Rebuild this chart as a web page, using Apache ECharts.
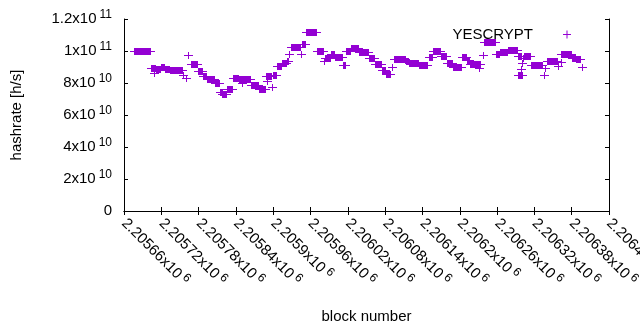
<!DOCTYPE html>
<html>
<head>
<meta charset="utf-8">
<script src="https://cdn.jsdelivr.net/npm/echarts@6/dist/echarts.min.js"></script>
<style>
html, body { margin: 0; padding: 0; background: #fff; }
#chart { width: 640px; height: 330px; }
</style>
</head>
<body>
<div id="chart"></div>
<script>
// runs of consecutive blocks sharing one hashrate value (first block, last block, GH/s)
const runFirst = [
  2205676, 2205703, 2205708, 2205711, 2205719, 2205726, 2205734, 2205755, 2205759, 2205763,
  2205768, 2205779, 2205787, 2205793, 2205806, 2205814, 2205818, 2205826, 2205835, 2205845,
  2205850, 2205851, 2205864, 2205877, 2205890, 2205888, 2205898, 2205900, 2205906, 2205914,
  2205922, 2205925, 2205929, 2205945, 2205946, 2205953, 2205970, 2205982, 2205983, 2205993,
  2205999, 2206012, 2206017, 2206025, 2206038, 2206054, 2206064, 2206075, 2206081, 2206091,
  2206094, 2206113, 2206118, 2206134, 2206150, 2206157, 2206170, 2206179, 2206189, 2206204,
  2206212, 2206216, 2206231, 2206237, 2206239, 2206258, 2206265, 2206278, 2206294, 2206293,
  2206299, 2206300, 2206302, 2206303, 2206315, 2206337, 2206335, 2206340, 2206358, 2206362,
  2206363, 2206380, 2206387, 2206397
]
const runLast = [
  2205702, 2205710, 2205708, 2205718, 2205724, 2205732, 2205753, 2205755, 2205759, 2205763,
  2205777, 2205785, 2205792, 2205805, 2205813, 2205817, 2205824, 2205834, 2205843, 2205850,
  2205850, 2205863, 2205875, 2205887, 2205890, 2205896, 2205898, 2205904, 2205912, 2205920,
  2205924, 2205925, 2205943, 2205945, 2205951, 2205969, 2205980, 2205982, 2205991, 2205998,
  2206011, 2206015, 2206023, 2206036, 2206052, 2206062, 2206073, 2206080, 2206088, 2206091,
  2206112, 2206117, 2206133, 2206147, 2206155, 2206168, 2206178, 2206187, 2206202, 2206210,
  2206215, 2206232, 2206231, 2206237, 2206257, 2206263, 2206276, 2206292, 2206298, 2206300,
  2206299, 2206300, 2206302, 2206313, 2206332, 2206337, 2206335, 2206356, 2206358, 2206362,
  2206379, 2206385, 2206393, 2206397
]
const runHashrate = [
  100.0, 89.6, 86.5, 88.8, 89.8, 88.8, 87.9, 84.8, 83.1, 97.3,
  91.7, 87.7, 84.4, 82.3, 80.0, 74.6, 73.3, 76.5, 82.9, 82.5,
  80.2, 82.7, 78.5, 76.5, 81.2, 84.4, 77.7, 85.2, 90.6, 92.3,
  93.8, 98.3, 102.5, 98.3, 104.6, 111.7, 99.8, 93.5, 95.6, 98.1,
  96.3, 91.5, 99.8, 102.1, 99.4, 95.6, 91.7, 88.3, 85.4, 90.0,
  94.8, 93.8, 92.3, 91.0, 96.0, 100.0, 96.7, 92.3, 90.2, 96.5,
  94.4, 91.7, 89.4, 97.5, 105.4, 98.1, 99.6, 100.4, 97.1, 84.8,
  89.0, 92.5, 95.6, 96.7, 91.0, 89.4, 84.8, 93.5, 90.4, 93.1,
  97.9, 95.8, 94.8, 90.0
]

const seriesName = 'YESCRYPT'
const purple = '#9400d3'
const font = 'Liberation Sans'

const chart = echarts.init(document.getElementById('chart'))

function sci(v, digits) {
  if (v === 0) return '{m|0}'
  const e = Math.floor(Math.log10(v) + 1e-9)
  const m = parseFloat((v / Math.pow(10, e)).toFixed(digits))
  return '{m|' + m + 'x10}{e|' + e + '}'
}

const rich = {
  m: { fontSize: 15, fontFamily: font, color: '#000' },
  e: { fontSize: 12, fontFamily: font, color: '#000', padding: [0, 0, 8, 3] }
}

const data = runFirst.map((f, i) => [f, runLast[i], runHashrate[i] * 1e9])

const option = {
  animation: false,
  textStyle: { fontFamily: font },
  grid: { left: 124, right: 31, top: 19, bottom: 119, outerBoundsMode: 'none', containLabel: false },
  legend: {
    data: [{ name: seriesName, icon: 'path://M0,3.5H8V4.5H0Z M3.5,0H4.5V8H3.5Z' }],
    align: 'right',
    right: 64,
    top: 22,
    itemWidth: 58,
    itemHeight: 8,
    textStyle: { fontSize: 15, fontFamily: font, color: '#000' }
  },
  xAxis: [
    {
      type: 'value',
      min: 2205660,
      max: 2206440,
      interval: 60,
      name: 'block number',
      nameLocation: 'middle',
      nameGap: 98,
      nameTextStyle: { fontSize: 15, fontFamily: font, color: '#000' },
      axisLine: { lineStyle: { color: '#000', width: 1 } },
      axisTick: { inside: true, length: 4, lineStyle: { color: '#000' } },
      splitLine: { show: false },
      axisLabel: {
        rotate: -45,
        margin: 10,
        hideOverlap: false,
        showMinLabel: true,
        showMaxLabel: true,
        formatter: v => sci(v, 5),
        rich: rich
      }
    },
    {
      type: 'value',
      position: 'top',
      min: 2205660,
      max: 2206440,
      interval: 60,
      axisLine: { lineStyle: { color: '#000', width: 1 } },
      axisTick: { inside: true, length: 4, lineStyle: { color: '#000' } },
      axisLabel: { show: false },
      splitLine: { show: false }
    }
  ],
  yAxis: [
    {
      type: 'value',
      min: 0,
      max: 1.2e11,
      interval: 2e10,
      name: 'hashrate [h/s]',
      nameLocation: 'middle',
      nameGap: 100,
      nameTextStyle: { fontSize: 15, fontFamily: font, color: '#000' },
      axisLine: { show: true, lineStyle: { color: '#000', width: 1 } },
      axisTick: { show: true, inside: true, length: 4, lineStyle: { color: '#000' } },
      splitLine: { show: false },
      axisLabel: {
        margin: 12,
        formatter: v => sci(v, 2),
        rich: rich
      }
    },
    {
      type: 'value',
      position: 'right',
      min: 0,
      max: 1.2e11,
      interval: 2e10,
      axisLine: { show: true, lineStyle: { color: '#000', width: 1 } },
      axisTick: { show: true, inside: true, length: 4, lineStyle: { color: '#000' } },
      axisLabel: { show: false },
      splitLine: { show: false }
    }
  ],
  series: [
    {
      name: seriesName,
      type: 'custom',
      xAxisIndex: 0,
      yAxisIndex: 0,
      itemStyle: { color: purple },
      encode: { x: [0, 1], y: 2 },
      data: data,
      renderItem: function(params, api) {
        const a = api.coord([api.value(0), api.value(2)])
        const b = api.coord([api.value(1), api.value(2)])
        const x0 = Math.round(a[0])
        const x1 = Math.round(b[0])
        const y = Math.round(a[1])
        const style = { fill: purple }
        return {
          type: 'group',
          children: [
            // vertical arms of the "+" marks, merged over the run
            { type: 'rect', shape: { x: x0, y: y - 3, width: x1 - x0 + 1, height: 7 }, style: style },
            // horizontal arms
            { type: 'rect', shape: { x: x0 - 4, y: y, width: x1 - x0 + 9, height: 1 }, style: style }
          ]
        }
      }
    }
  ]
}

chart.setOption(option)
</script>
</body>
</html>
